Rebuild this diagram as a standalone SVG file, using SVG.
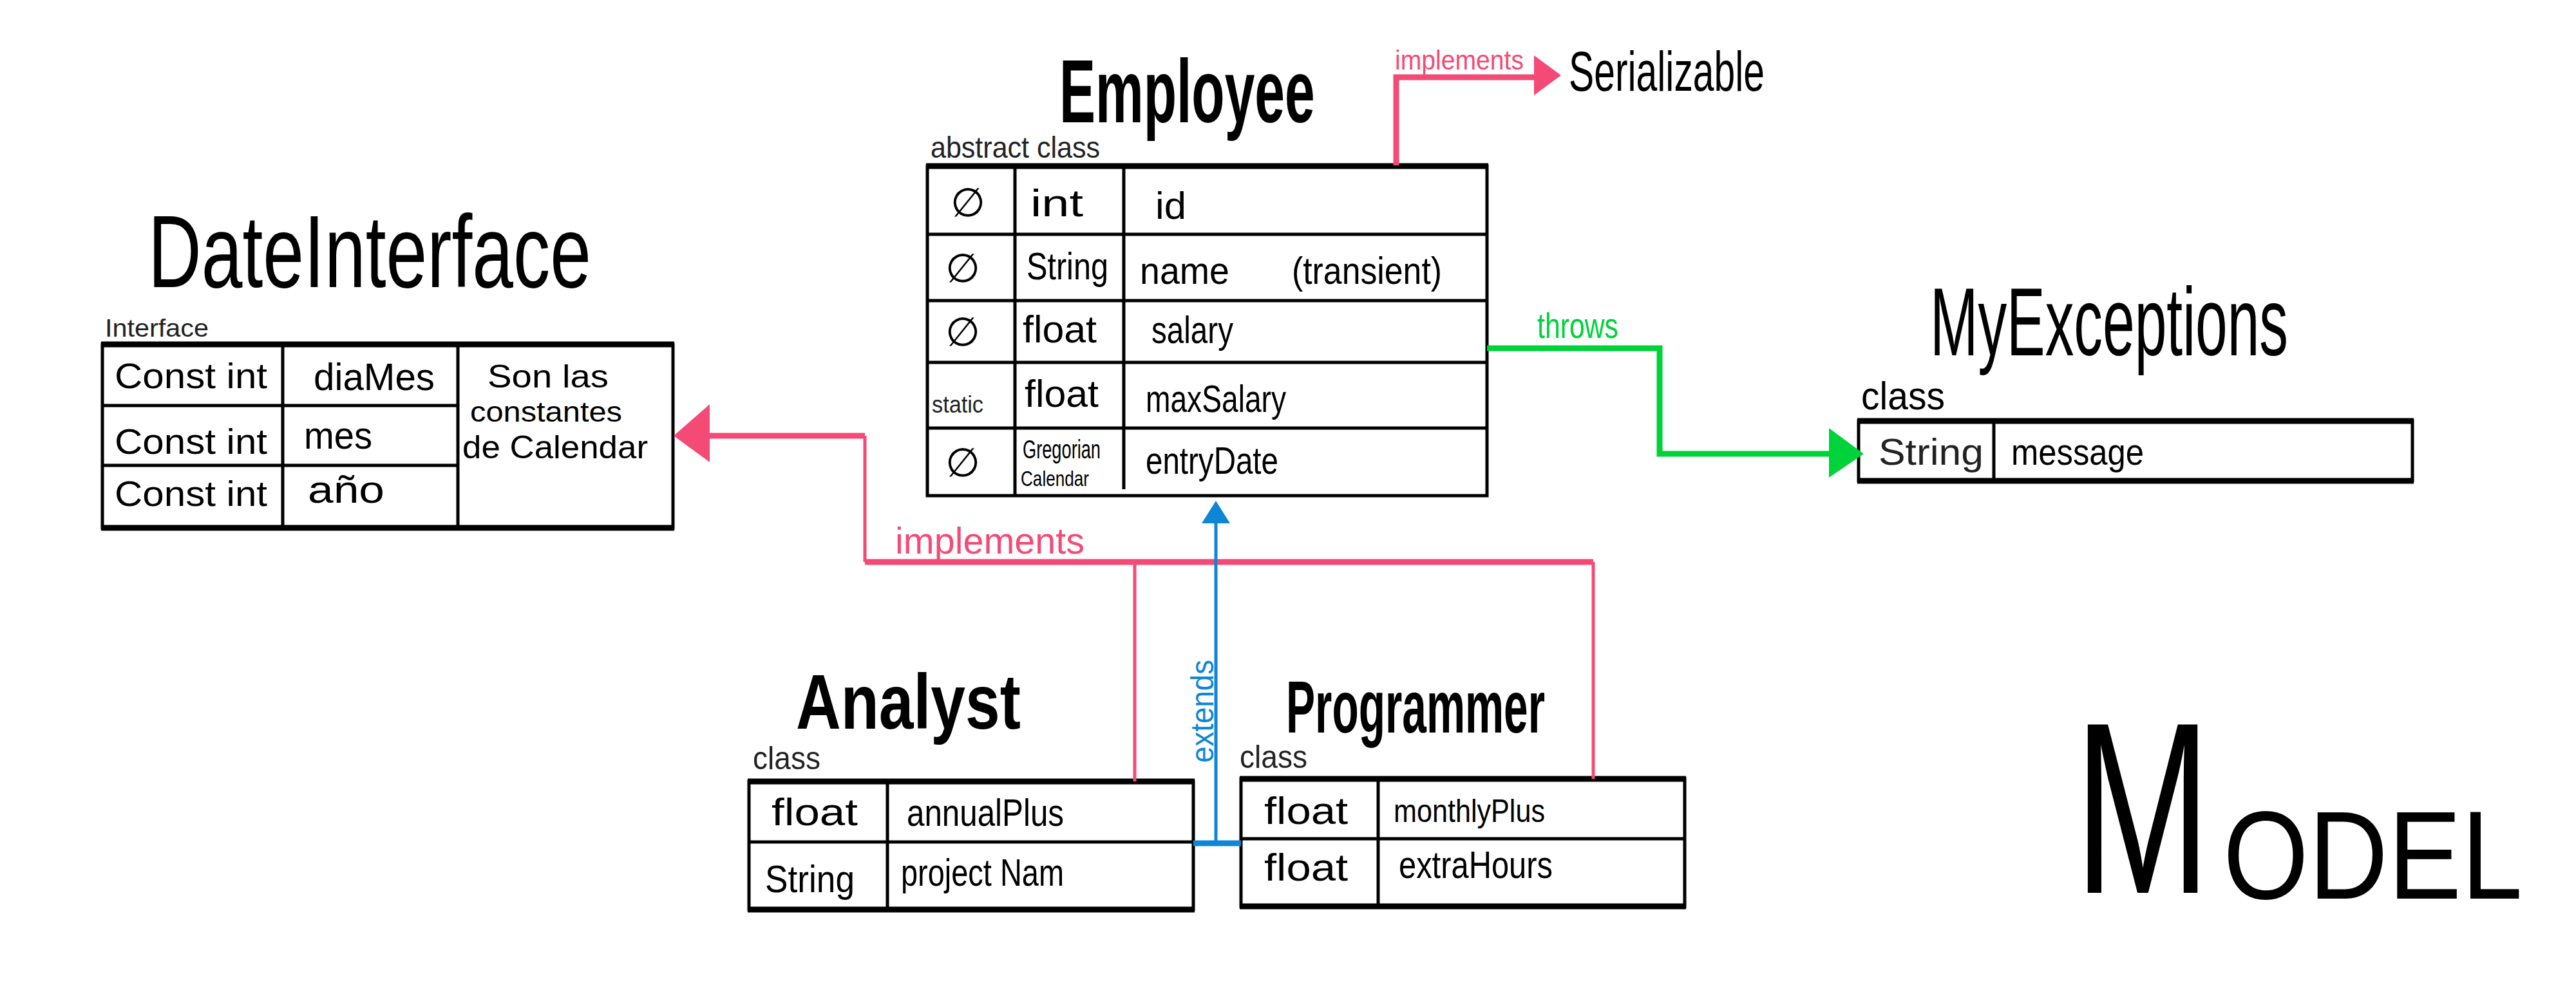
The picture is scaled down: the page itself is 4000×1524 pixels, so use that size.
<svg xmlns="http://www.w3.org/2000/svg" width="4000" height="1524" viewBox="0 0 4000 1524">
<style>
text{font-family:"Liberation Sans",Arial,sans-serif;fill:#000}
.t{font-size:60px}
.bold{font-weight:bold}
.thin{fill:#222}
.null{font-family:"DejaVu Sans",sans-serif;font-size:62px}
.tb{fill:none;stroke:#000;stroke-width:5}
.tt{stroke:#000;stroke-width:9;fill:none}
.ln{stroke:#000;stroke-width:5}
.pink{stroke:#f34b76;fill:none}
.green{stroke:#00d23a;fill:none}
.blue{stroke:#0e86d6;fill:none}
</style>

<!-- Employee -->
<g id="employee">
<text class="bold" transform="translate(1645,190) scale(0.6,1)" x="0" y="0" font-size="140">Employee</text>
<text class="thin" x="1445" y="245" font-size="46" textLength="263" lengthAdjust="spacingAndGlyphs">abstract class</text>
<rect class="tb" x="1440" y="258" width="869" height="512"/>
<line class="tt" x1="1438" y1="258" x2="2311" y2="258"/>
<line class="ln" x1="1440" y1="364" x2="2309" y2="364"/>
<line class="ln" x1="1440" y1="467" x2="2309" y2="467"/>
<line class="ln" x1="1440" y1="563" x2="2309" y2="563"/>
<line class="ln" x1="1440" y1="665" x2="2309" y2="665"/>
<line class="ln" x1="1576" y1="258" x2="1576" y2="770"/>
<line class="ln" x1="1745" y1="258" x2="1745" y2="760"/>
<text class="null" x="1476" y="336">∅</text>
<text class="t" x="1600" y="336" textLength="82" lengthAdjust="spacingAndGlyphs">int</text>
<text class="t" x="1794" y="340" textLength="48" lengthAdjust="spacingAndGlyphs">id</text>
<text class="null" x="1468" y="438">∅</text>
<text class="t" x="1594" y="434" textLength="127" lengthAdjust="spacingAndGlyphs">String</text>
<text class="t" x="1770" y="441" textLength="139" lengthAdjust="spacingAndGlyphs">name</text>
<text class="t" x="2006" y="441" textLength="233" lengthAdjust="spacingAndGlyphs">(transient)</text>
<text class="null" x="1468" y="537">∅</text>
<text class="t" x="1588" y="532" textLength="115" lengthAdjust="spacingAndGlyphs">float</text>
<text class="t" x="1788" y="533" textLength="127" lengthAdjust="spacingAndGlyphs">salary</text>
<text class="thin" x="1447" y="641" font-size="36" textLength="80" lengthAdjust="spacingAndGlyphs">static</text>
<text class="t" x="1591" y="632" textLength="115" lengthAdjust="spacingAndGlyphs">float</text>
<text class="t" x="1779" y="640" textLength="218" lengthAdjust="spacingAndGlyphs">maxSalary</text>
<text class="null" x="1468" y="740">∅</text>
<text x="1588" y="712" font-size="40" textLength="121" lengthAdjust="spacingAndGlyphs">Gregorian</text>
<text x="1585" y="755" font-size="34" textLength="106" lengthAdjust="spacingAndGlyphs">Calendar</text>
<text class="t" x="1779" y="736" textLength="206" lengthAdjust="spacingAndGlyphs">entryDate</text>
</g>

<!-- Serializable -->
<g id="serializable">
<text x="2436" y="141" font-size="88" textLength="304" lengthAdjust="spacingAndGlyphs">Serializable</text>
</g>

<!-- DateInterface -->
<g id="dateinterface">
<text x="230" y="446" font-size="160" textLength="688" lengthAdjust="spacingAndGlyphs">DateInterface</text>
<text class="thin" x="163" y="523" font-size="38" textLength="161" lengthAdjust="spacingAndGlyphs">Interface</text>
<rect class="tb" x="159" y="535" width="886" height="285"/>
<line class="tt" x1="157" y1="535" x2="1047" y2="535"/>
<line class="tt" x1="157" y1="820" x2="1047" y2="820"/>
<line class="ln" x1="159" y1="630" x2="711" y2="630"/>
<line class="ln" x1="159" y1="723" x2="711" y2="723"/>
<line class="ln" x1="439" y1="535" x2="439" y2="820"/>
<line class="ln" x1="711" y1="535" x2="711" y2="820"/>
<text x="178" y="603" font-size="56" textLength="237" lengthAdjust="spacingAndGlyphs">Const int</text>
<text x="178" y="705" font-size="56" textLength="237" lengthAdjust="spacingAndGlyphs">Const int</text>
<text x="178" y="786" font-size="56" textLength="237" lengthAdjust="spacingAndGlyphs">Const int</text>
<text class="t" x="487" y="606" textLength="188" lengthAdjust="spacingAndGlyphs">diaMes</text>
<text class="t" x="472" y="697" textLength="106" lengthAdjust="spacingAndGlyphs">mes</text>
<text class="t" x="478" y="781" textLength="119" lengthAdjust="spacingAndGlyphs">año</text>
<text x="757" y="602" font-size="50" textLength="188" lengthAdjust="spacingAndGlyphs">Son las</text>
<text x="730" y="655" font-size="44" textLength="236" lengthAdjust="spacingAndGlyphs">constantes</text>
<text x="718" y="712" font-size="50" textLength="288" lengthAdjust="spacingAndGlyphs">de Calendar</text>
</g>

<!-- MyExceptions -->
<g id="myexceptions">
<text x="2997" y="552" font-size="150" textLength="556" lengthAdjust="spacingAndGlyphs">MyExceptions</text>
<text x="2890" y="636" font-size="62" textLength="130" lengthAdjust="spacingAndGlyphs">class</text>
<rect class="tb" x="2886" y="654" width="860" height="93"/>
<line class="tt" x1="2884" y1="654" x2="3748" y2="654"/>
<line class="tt" x1="2884" y1="747" x2="3748" y2="747"/>
<line class="ln" x1="3096" y1="654" x2="3096" y2="750"/>
<text class="thin" x="2917" y="722" font-size="58" textLength="163" lengthAdjust="spacingAndGlyphs">String</text>
<text x="3123" y="722" font-size="58" textLength="206" lengthAdjust="spacingAndGlyphs">message</text>
</g>

<!-- Analyst -->
<g id="analyst">
<text class="bold" x="1236" y="1132" font-size="120" textLength="349" lengthAdjust="spacingAndGlyphs">Analyst</text>
<text class="thin" x="1169" y="1195" font-size="50" textLength="105" lengthAdjust="spacingAndGlyphs">class</text>
<rect class="tb" x="1163" y="1214" width="690" height="199"/>
<line class="tt" x1="1161" y1="1214" x2="1855" y2="1214"/>
<line class="tt" x1="1161" y1="1413" x2="1855" y2="1413"/>
<line class="ln" x1="1163" y1="1308" x2="1853" y2="1308"/>
<line class="ln" x1="1378" y1="1214" x2="1378" y2="1413"/>
<text class="t" x="1198" y="1282" textLength="134" lengthAdjust="spacingAndGlyphs">float</text>
<text class="t" x="1408" y="1283" textLength="244" lengthAdjust="spacingAndGlyphs">annualPlus</text>
<text class="t" x="1188" y="1386" textLength="139" lengthAdjust="spacingAndGlyphs">String</text>
<text class="t" x="1399" y="1376" textLength="253" lengthAdjust="spacingAndGlyphs">project Nam</text>
</g>

<!-- Programmer -->
<g id="programmer">
<text class="bold" x="1997" y="1138" font-size="115" textLength="402" lengthAdjust="spacingAndGlyphs">Programmer</text>
<text class="thin" x="1925" y="1193" font-size="50" textLength="105" lengthAdjust="spacingAndGlyphs">class</text>
<rect class="tb" x="1927" y="1210" width="689" height="198"/>
<line class="tt" x1="1925" y1="1210" x2="2618" y2="1210"/>
<line class="tt" x1="1925" y1="1408" x2="2618" y2="1408"/>
<line class="ln" x1="1927" y1="1303" x2="2616" y2="1303"/>
<line class="ln" x1="2140" y1="1210" x2="2140" y2="1408"/>
<text class="t" x="1963" y="1280" textLength="130" lengthAdjust="spacingAndGlyphs">float</text>
<text x="2164" y="1277" font-size="50" textLength="235" lengthAdjust="spacingAndGlyphs">monthlyPlus</text>
<text class="t" x="1963" y="1368" textLength="130" lengthAdjust="spacingAndGlyphs">float</text>
<text class="t" x="2172" y="1364" textLength="239" lengthAdjust="spacingAndGlyphs">extraHours</text>
</g>

<!-- MODEL -->
<g id="model">
<text transform="translate(3221,1387) scale(0.67,1)" x="0" y="0" font-size="380">M</text>
<text x="3452" y="1396" font-size="195" textLength="465" lengthAdjust="spacingAndGlyphs">ODEL</text>
</g>

<!-- Connectors -->
<g id="connectors">
<!-- implements Serializable -->
<path class="pink" stroke-width="9" d="M2168,257 V120 H2388"/>
<polygon fill="#f34b76" points="2424,117 2382,86 2382,148"/>
<text x="2166" y="108" font-size="42" style="fill:#f34b76" textLength="200" lengthAdjust="spacingAndGlyphs">implements</text>

<!-- implements DateInterface -->
<path class="pink" stroke-width="5" d="M2474,1210 V873"/>
<path class="pink" stroke-width="5" d="M1762,1214 V873"/>
<path class="pink" stroke-width="5" d="M1343,873 V677"/>
<path class="pink" stroke-width="9" d="M1343,873 H2474"/>
<path class="pink" stroke-width="9" d="M1343,677 H1100"/>
<polygon fill="#f34b76" points="1046,677 1102,628 1102,718"/>
<text x="1390" y="860" font-size="58" style="fill:#f34b76" textLength="294" lengthAdjust="spacingAndGlyphs">implements</text>

<!-- throws -->
<path class="green" stroke-width="9" d="M2309,541 H2577 V705 H2845"/>
<polygon fill="#00d23a" points="2894,705 2840,665 2840,742"/>
<text x="2387" y="525" font-size="56" style="fill:#00d23a" textLength="126" lengthAdjust="spacingAndGlyphs">throws</text>

<!-- extends -->
<path class="blue" stroke-width="5" d="M1888,1310 V810"/>
<path class="blue" stroke-width="9" d="M1853,1310 H1927"/>
<polygon fill="#0e86d6" points="1888,778 1866,813 1910,813"/>
<text transform="translate(1884,1185) rotate(-90)" x="0" y="0" font-size="50" style="fill:#0e86d6" textLength="160" lengthAdjust="spacingAndGlyphs">extends</text>
</g>
</svg>
